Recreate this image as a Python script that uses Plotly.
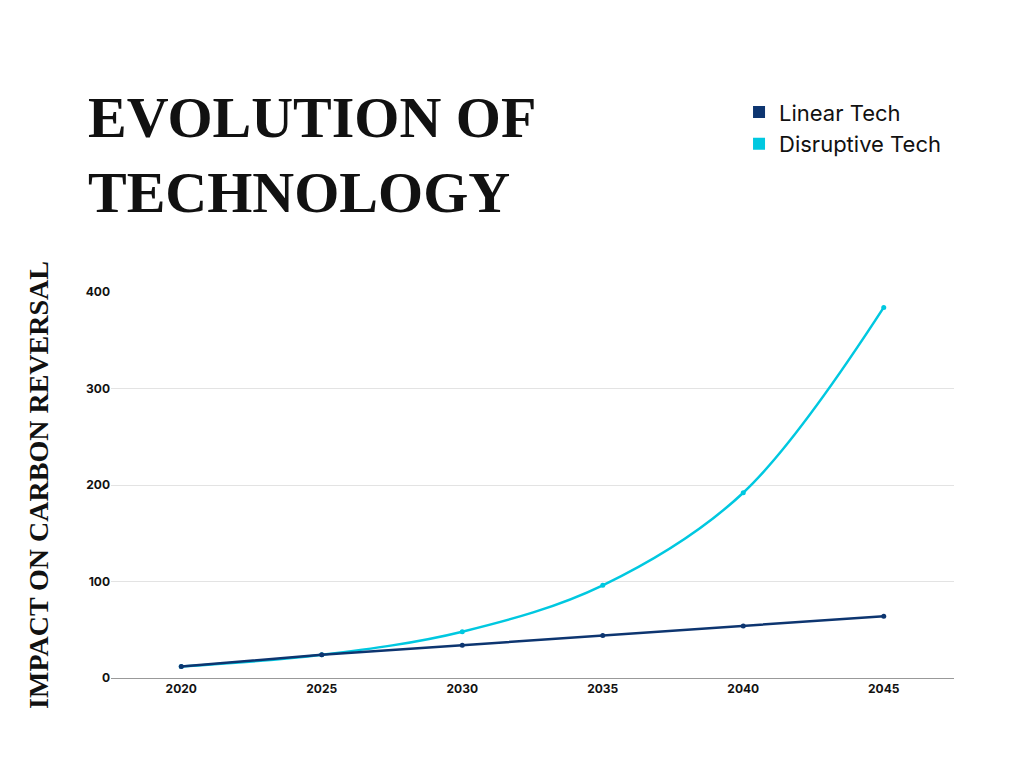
import plotly.graph_objects as go

years = ["2020", "2025", "2030", "2035", "2040", "2045"]
linear = [12, 24, 34, 44, 54, 64]
disruptive = [12, 24, 48, 96, 192, 384]

fig = go.Figure()
fig.add_trace(go.Scatter(x=years, y=disruptive, mode="lines+markers", line=dict(color="#00c8e0", width=2.5, shape="spline"),
                         marker=dict(size=5), showlegend=False))
fig.add_trace(go.Scatter(x=years, y=linear, mode="lines+markers", line=dict(color="#0d3570", width=2.5),
                         marker=dict(size=5), showlegend=False))
fig.add_trace(go.Scatter(x=[None], y=[None], mode="markers", name="Linear Tech",
                         marker=dict(symbol="square", size=14, color="#0d3570")))
fig.add_trace(go.Scatter(x=[None], y=[None], mode="markers", name="Disruptive Tech",
                         marker=dict(symbol="square", size=14, color="#00c8e0")))

fig.update_layout(
    width=1024, height=768, plot_bgcolor="white", paper_bgcolor="white",
    margin=dict(l=103, r=78, t=284, b=98),
    legend=dict(x=0.745, y=1.52, xanchor="left", yanchor="top", tracegroupgap=20,
                font=dict(family="Inter", size=22, color="#111"), itemsizing="constant"),
    xaxis=dict(type="category", range=[-0.5, 5.5], showgrid=False, showline=True, linecolor="#999",
               ticks="", tickfont=dict(family="Inter", size=12, color="#111", weight="bold")),
    yaxis=dict(range=[0, 400], tickvals=[0, 100, 200, 300, 400], gridcolor="#e3e3e3", zeroline=False,
               tickfont=dict(family="Inter", size=12, color="#111", weight="bold"),
               title=dict(text="IMPACT ON CARBON REVERSAL", standoff=28,
                          font=dict(family="Liberation Sans Narrow", size=28, color="#111", weight="bold"))),
    annotations=[dict(text="EVOLUTION OF<br>TECHNOLOGY", xref="paper", yref="paper",
                      x=(78-103)/843, y=(670-75)/386, xanchor="left", yanchor="top", align="left",
                      showarrow=False,
                      font=dict(family="Liberation Sans Narrow", size=58, color="#111", weight="bold"))],
)
fig.write_html("out.html")
